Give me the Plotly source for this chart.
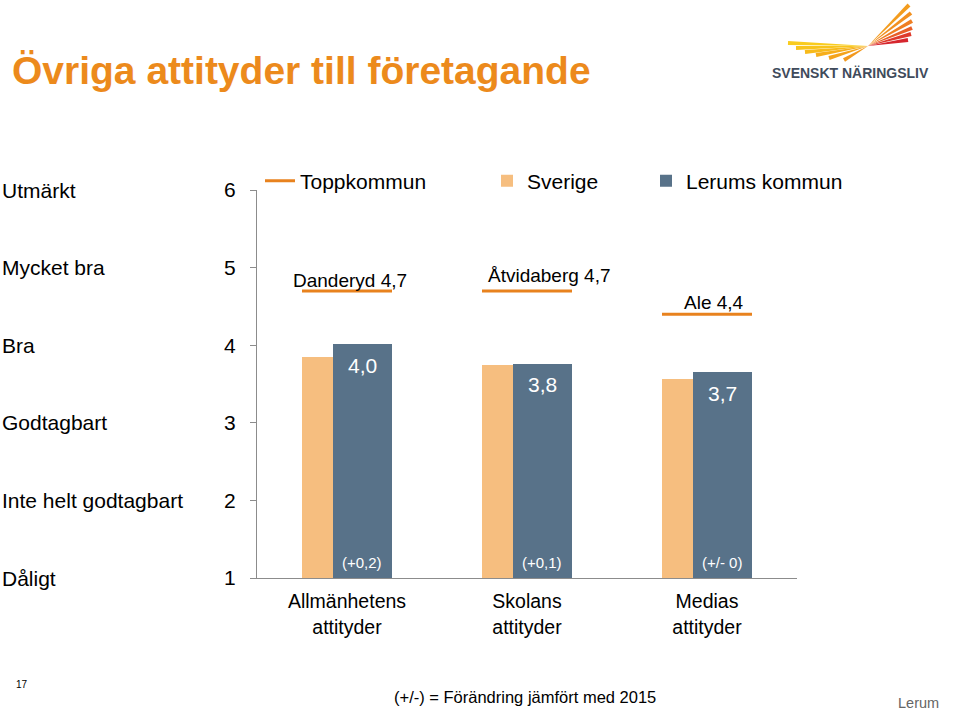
import plotly.graph_objects as go
import math

# ---------------- data ----------------
categories = ["Allmänhetens<br>attityder", "Skolans<br>attityder", "Medias<br>attityder"]
sverige = [3.85, 3.75, 3.56]
lerum = [4.01, 3.76, 3.65]
lerum_labels = ["4,0", "3,8", "3,7"]
change_labels = ["(+0,2)", "(+0,1)", "(+/- 0)"]
topp_names = ["Danderyd", "Åtvidaberg", "Ale"]
topp_values = [4.7, 4.7, 4.4]
scale_values = [6, 5, 4, 3, 2, 1]
scale_names = ["Utmärkt", "Mycket bra", "Bra", "Godtagbart", "Inte helt godtagbart", "Dåligt"]

# ---------------- style ----------------
FONT = "Liberation Sans, Arial, Helvetica, sans-serif"
C_SVE = "#F6BE7F"
C_LER = "#587289"
C_TOP = "#E8821E"
C_TITLE = "#EC8A1C"
AX = "#8C8C8C"
W = 0.328
OFF_S = -0.25
OFF_L = -0.078
# label offsets (px) for topp labels: (dx, dy) of text centre relative to line centre
topp_label_shift = [(3, 10), (22, 15), (7, 12)]

L, R, T, B = 257, 163, 190, 132
PW, PH = 960 - L - R, 710 - T - B


def px(x):
    return (x - L) / PW


def py(y):
    return (710 - B - y) / PH


xs = list(range(len(categories)))
fig = go.Figure()

fig.add_trace(go.Bar(x=xs, y=[v - 1 for v in sverige], base=1, width=W, offset=OFF_S,
                     marker=dict(color=C_SVE, line=dict(width=0)), name="Sverige",
                     legend="legend2", hoverinfo="skip"))
fig.add_trace(go.Bar(x=xs, y=[v - 1 for v in lerum], base=1, width=W, offset=OFF_L,
                     marker=dict(color=C_LER, line=dict(width=0)), name="Lerums kommun",
                     legend="legend3", hoverinfo="skip"))

lx, ly = [], []
for i, v in zip(xs, topp_values):
    lx += [i + OFF_S, i + OFF_L + W, None]
    ly += [v, v, None]
fig.add_trace(go.Scatter(x=lx, y=ly, mode="lines", line=dict(color=C_TOP, width=3),
                         name="Toppkommun", legend="legend", hoverinfo="skip"))

ann = []
for i in xs:
    cx = i + OFF_L + W / 2
    ann.append(dict(x=cx, y=lerum[i], xref="x", yref="y", text=lerum_labels[i], showarrow=False,
                    yshift=-21, font=dict(family=FONT, size=21, color="white")))
    ann.append(dict(x=cx, y=1, xref="x", yref="y", text=change_labels[i], showarrow=False,
                    yshift=16, font=dict(family=FONT, size=15, color="white")))
    gx = i + (OFF_S + OFF_L + W) / 2
    dx, dy = topp_label_shift[i]
    ann.append(dict(x=gx, y=topp_values[i], xref="x", yref="y",
                    text=f"{topp_names[i]} {str(topp_values[i]).replace('.', ',')}",
                    showarrow=False, xshift=dx, yshift=dy, yanchor="middle",
                    font=dict(family=FONT, size=19, color="black")))

for v, n in zip(scale_values, scale_names):
    ann.append(dict(x=px(0), y=v, xref="paper", yref="y", text=n, showarrow=False,
                    xanchor="left", font=dict(family=FONT, size=21, color="black")))

# title
ann.append(dict(x=px(10), y=py(70), xref="paper", yref="paper", xanchor="left", yanchor="middle",
                text="<b>Övriga attityder till företagande</b>", showarrow=False,
                font=dict(family=FONT, size=39, color=C_TITLE)))
# logo text
ann.append(dict(x=px(850), y=py(73), xref="paper", yref="paper", xanchor="center", yanchor="middle",
                text="<b>SVENSKT NÄRINGSLIV</b>", showarrow=False,
                font=dict(family=FONT, size=14, color="#3F4B5B")))
# footer
ann.append(dict(x=px(14), y=py(684), xref="paper", yref="paper", xanchor="left", yanchor="middle",
                text="17", showarrow=False, font=dict(family=FONT, size=10, color="black")))
ann.append(dict(x=px(525), y=py(697), xref="paper", yref="paper", xanchor="center", yanchor="middle",
                text="(+/-) = Förändring jämfört med 2015", showarrow=False,
                font=dict(family=FONT, size=16.5, color="black")))
ann.append(dict(x=px(941), y=py(703), xref="paper", yref="paper", xanchor="right", yanchor="middle",
                text="Lerum", showarrow=False, font=dict(family=FONT, size=14.5, color="#666666")))

# logo wings
shapes = []
cxp, cyp = 868, 46
feathers = [
    ((909, 5), "#F39C1E"), ((911, 13), "#F29020"), ((912, 21), "#EF7E22"),
    ((912, 28), "#E85F28"), ((911, 34), "#DE3A2C"), ((908, 40), "#D6262E"),
    ((788, 43), "#F9CC1E"), ((796, 48), "#F8C41C"), ((805, 52), "#F7BA1B"),
    ((816, 55), "#F6AE1B"), ((829, 58), "#F4A31C"), ((844, 60), "#F2981D"),
]
for (tx, ty), col in feathers:
    ddx, ddy = tx - cxp, ty - cyp
    ln = math.hypot(ddx, ddy)
    nx, ny = -ddy / ln * 2.0, ddx / ln * 2.0
    pts = [(cxp, cyp), (tx + nx, ty + ny), (tx - nx, ty - ny)]
    path = "M " + " L ".join(f"{px(a):.5f},{py(b):.5f}" for a, b in pts) + " Z"
    shapes.append(dict(type="path", path=path, xref="paper", yref="paper",
                       fillcolor=col, line=dict(width=0)))

leg_common = dict(orientation="h", yanchor="middle", xanchor="left", y=py(181),
                  font=dict(family=FONT, size=21, color="black"), bgcolor="rgba(0,0,0,0)",
                  itemwidth=30, tracegroupgap=0)

fig.update_layout(
    width=960, height=710, autosize=False,
    margin=dict(l=L, r=R, t=T, b=B, pad=0),
    paper_bgcolor="white", plot_bgcolor="white",
    barmode="overlay", bargap=0,
    font=dict(family=FONT, color="black"),
    xaxis=dict(range=[-0.5, 2.5], tickvals=xs, ticktext=categories, showline=True,
               linecolor=AX, linewidth=1, ticks="", showgrid=False, zeroline=False,
               tickfont=dict(family=FONT, size=19.5, color="black"), ticklabelstandoff=6),
    yaxis=dict(range=[1, 6], tickvals=scale_values, showline=True, linecolor=AX, linewidth=1,
               ticks="outside", ticklen=6, tickcolor=AX, showgrid=False, zeroline=False,
               tickfont=dict(family=FONT, size=21, color="black"), ticklabelstandoff=10),
    legend=dict(x=px(260), **leg_common),
    legend2=dict(x=px(487), **leg_common),
    legend3=dict(x=px(646), **leg_common),
    annotations=ann,
    shapes=shapes,
    showlegend=True,
)

fig.write_html("out.html", config={"displayModeBar": False},
               post_script="document.body.style.margin='0';document.body.style.overflow='hidden';")
